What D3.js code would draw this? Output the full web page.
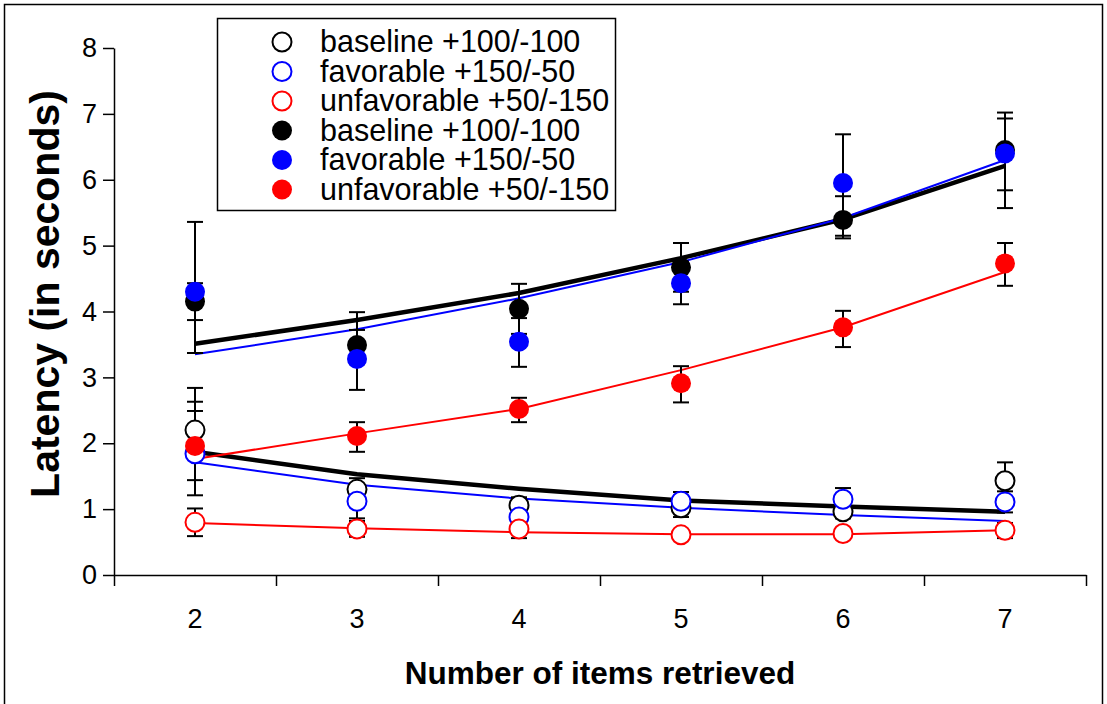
<!DOCTYPE html>
<html>
<head>
<meta charset="utf-8">
<script src="https://cdn.jsdelivr.net/npm/d3@7"></script>
<style>
  body { margin: 0; background: white; }
  svg { font-family: 'Liberation Sans', Arial, sans-serif; }
</style>
</head>
<body>
<svg id="chart" width="1107" height="704"></svg>
<script>
/* DATA */

const items = [2, 3, 4, 5, 6, 7]
const yTicks = [0, 1, 2, 3, 4, 5, 6, 7, 8]

// Open markers
const baseOpen = [2.20, 1.30, 1.06, 1.02, 0.96, 1.43]
const favOpen = [1.84, 1.12, 0.88, 1.12, 1.15, 1.11]
const unfavOpen = [0.80, 0.70, 0.70, 0.61, 0.63, 0.68]

// Filled markers
const baseFilled = [4.15, 3.49, 4.04, 4.67, 5.39, 6.45]
const favFilled = [4.30, 3.28, 3.54, 4.43, 5.95, 6.40]
const unfavFilled = [1.96, 2.11, 2.52, 2.91, 3.76, 4.73]

// Error bar ends (low / high)
const baseOpenLo = [1.77, 1.15, 0.94, 0.88, 0.86, 1.15]
const baseOpenHi = [2.63, 1.47, 1.18, 1.16, 1.06, 1.71]
const favOpenLo = [1.21, 0.86, 0.78, 0.98, 0.98, 0.95]
const favOpenHi = [2.84, 1.38, 0.98, 1.26, 1.32, 1.27]
const unfavOpenLo = [0.59, 0.58, 0.56, 0.56, 0.58, 0.56]
const unfavOpenHi = [1.01, 0.82, 0.84, 0.66, 0.68, 0.79]
const baseFilledLo = [3.87, 3.20, 3.66, 4.30, 5.11, 5.84]
const baseFilledHi = [4.43, 3.99, 4.42, 5.04, 5.75, 7.02]
const favFilledLo = [3.37, 2.81, 3.16, 4.11, 5.15, 5.57]
const favFilledHi = [5.36, 3.72, 3.90, 4.75, 6.69, 6.93]
const unfavFilledLo = [1.44, 1.87, 2.32, 2.62, 3.46, 4.39]
const unfavFilledHi = [2.49, 2.32, 2.69, 3.17, 4.01, 5.04]

// Fitted curves
const baseOpenFit = [1.87, 1.53, 1.31, 1.13, 1.04, 0.96]
const favOpenFit = [1.71, 1.37, 1.16, 1.02, 0.91, 0.82]
const unfavOpenFit = [0.79, 0.71, 0.65, 0.62, 0.62, 0.68]
const baseFilledFit = [3.51, 3.87, 4.28, 4.81, 5.40, 6.21]
const favFilledFit = [3.35, 3.73, 4.20, 4.75, 5.42, 6.30]
const unfavFilledFit = [1.76, 2.15, 2.52, 3.11, 3.76, 4.60]

const legendLabels = ['baseline +100/-100', 'favorable +150/-50', 'unfavorable +50/-150',
  'baseline +100/-100', 'favorable +150/-50', 'unfavorable +50/-150']

/* SETUP */

const svg = d3.select('#chart')
const plotLeft = 114
const plotRight = 1086
const plotTop = 48
const plotBottom = 575

const x = d3.scaleBand().domain(items).range([plotLeft, plotRight])
const xEdge = d3.scaleLinear().domain([1.5, 7.5]).range([plotLeft, plotRight])
const y = d3.scaleLinear().domain([0, 8]).range([plotBottom, plotTop])

// outer frame
svg.append('rect')
  .attr('x', 4.5)
  .attr('y', 4.5)
  .attr('width', 1098)
  .attr('height', 720)
  .attr('fill', 'none')
  .attr('stroke', 'black')
  .attr('stroke-width', 1.5)

/* AXES */

const yAxis = svg.append('g')
  .attr('transform', `translate(${plotLeft},0)`)
  .call(d3.axisLeft(y).tickValues(yTicks).tickSize(11).tickPadding(6).tickSizeOuter(0))
yAxis.select('.domain').attr('stroke-width', 1.5)
yAxis.selectAll('.tick line').attr('stroke-width', 1.5)
yAxis.selectAll('text').attr('font-size', 27).attr('font-family', 'Liberation Sans, Arial, sans-serif')

const xTicks = svg.append('g')
  .attr('transform', `translate(0,${plotBottom})`)
  .call(d3.axisBottom(xEdge).tickValues(d3.range(1.5, 8, 1)).tickSize(11).tickFormat('').tickSizeOuter(0))
xTicks.select('.domain').attr('stroke-width', 1.5)
xTicks.selectAll('.tick line').attr('stroke-width', 1.5)

const xLabels = svg.append('g')
  .attr('transform', `translate(0,${plotBottom})`)
  .call(d3.axisBottom(x).tickSize(0).tickPadding(34))
xLabels.select('.domain').remove()
xLabels.selectAll('text').attr('font-size', 27).attr('font-family', 'Liberation Sans, Arial, sans-serif')

svg.append('text')
  .attr('x', (plotLeft + plotRight) / 2)
  .attr('y', 684)
  .attr('text-anchor', 'middle')
  .attr('font-size', 31.5)
  .attr('font-weight', 'bold')
  .text('Number of items retrieved')

svg.append('text')
  .attr('transform', 'translate(59,294) rotate(-90)')
  .attr('text-anchor', 'middle')
  .attr('font-size', 41)
  .attr('font-weight', 'bold')
  .text('Latency (in seconds)')

/* SERIES */

const series = [
  { mean: baseOpen, lo: baseOpenLo, hi: baseOpenHi, fit: baseOpenFit, colour: 'black', filled: false, width: 4.5 },
  { mean: favOpen, lo: favOpenLo, hi: favOpenHi, fit: favOpenFit, colour: 'blue', filled: false, width: 2 },
  { mean: unfavOpen, lo: unfavOpenLo, hi: unfavOpenHi, fit: unfavOpenFit, colour: 'red', filled: false, width: 2 },
  { mean: baseFilled, lo: baseFilledLo, hi: baseFilledHi, fit: baseFilledFit, colour: 'black', filled: true, width: 4.5 },
  { mean: favFilled, lo: favFilledLo, hi: favFilledHi, fit: favFilledFit, colour: 'blue', filled: true, width: 2 },
  { mean: unfavFilled, lo: unfavFilledLo, hi: unfavFilledHi, fit: unfavFilledFit, colour: 'red', filled: true, width: 2 }
]

const cx = d => x(d) + x.bandwidth() / 2
const line = d3.line().x(d => cx(d[0])).y(d => y(d[1]))

// fitted curves
series.forEach(s => {
  svg.append('path')
    .datum(items.map((d, i) => [d, s.fit[i]]))
    .attr('d', line)
    .attr('fill', 'none')
    .attr('stroke', s.colour)
    .attr('stroke-width', s.width)
})

// error bars
series.forEach(s => {
  const g = svg.append('g').attr('stroke', 'black').attr('stroke-width', 2)
  items.forEach((d, i) => {
    g.append('line')
      .attr('x1', cx(d)).attr('x2', cx(d))
      .attr('y1', y(s.lo[i])).attr('y2', y(s.hi[i]))
    ;[s.lo[i], s.hi[i]].forEach(v => {
      g.append('line')
        .attr('x1', cx(d) - 8).attr('x2', cx(d) + 8)
        .attr('y1', y(v)).attr('y2', y(v))
    })
  })
})

// markers
series.forEach(s => {
  svg.append('g').selectAll('circle')
    .data(items.map((d, i) => [d, s.mean[i]]))
    .enter().append('circle')
    .attr('cx', d => cx(d[0]))
    .attr('cy', d => y(d[1]))
    .attr('r', s.filled ? 10 : 9.5)
    .attr('fill', s.filled ? s.colour : 'white')
    .attr('stroke', s.colour)
    .attr('stroke-width', s.filled ? 0 : 2)
})

/* LEGEND */

const legend = svg.append('g')
legend.append('rect')
  .attr('x', 217.5)
  .attr('y', 18.5)
  .attr('width', 398)
  .attr('height', 192)
  .attr('fill', 'white')
  .attr('stroke', 'black')
  .attr('stroke-width', 1.5)

series.forEach((s, i) => {
  const ly = 42 + i * 29.5
  legend.append('circle')
    .attr('cx', 282)
    .attr('cy', ly)
    .attr('r', s.filled ? 10 : 9.5)
    .attr('fill', s.filled ? s.colour : 'white')
    .attr('stroke', s.colour)
    .attr('stroke-width', s.filled ? 0 : 2)
  legend.append('text')
    .attr('x', 320)
    .attr('y', ly + 10)
    .attr('font-size', 30.5)
    .text(legendLabels[i])
})
</script>
</body>
</html>
